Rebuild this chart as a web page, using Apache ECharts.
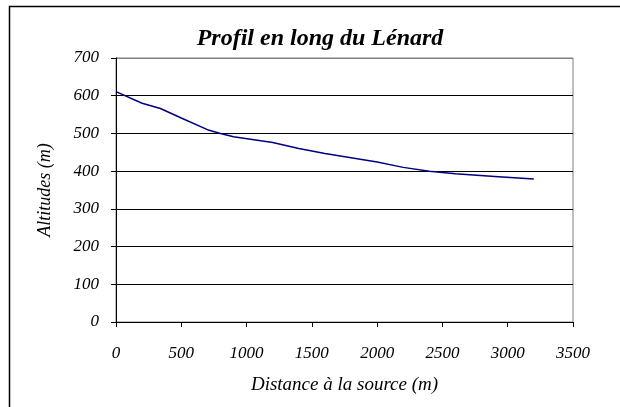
<!DOCTYPE html>
<html>
<head>
<meta charset="utf-8">
<title>Profil en long du Lénard</title>
<script src="https://cdn.jsdelivr.net/npm/echarts@6/dist/echarts.min.js"></script>
<style>
  html, body { margin: 0; padding: 0; background: #fff; }
  #chart { width: 620px; height: 407px; }
</style>
</head>
<body>
<div id="chart"></div>
<script>
// données
const distances = [0, 200, 340, 500, 700, 800, 900, 1200, 1400, 1600, 2000, 2200, 2400, 2600, 2900, 3200]
const altitudes = [611, 580, 566, 541, 510, 500, 491, 476, 460, 447, 424, 410, 400, 393, 386, 379]
const xTicks = [0, 500, 1000, 1500, 2000, 2500, 3000, 3500]
const yTicks = [0, 100, 200, 300, 400, 500, 600, 700]

const serif = '"Liberation Serif", "DejaVu Serif", serif'

let myChart = echarts.init(document.getElementById('chart'))
let option = {
  animation: false,
  title: {
    text: 'Profil en long du Lénard',
    left: 315,
    textAlign: 'center',
    top: 22,
    textStyle: {
      fontFamily: serif,
      fontStyle: 'italic',
      fontWeight: 'bold',
      fontSize: 24,
      color: '#000'
    }
  },
  // cadre du graphique (coupé à droite et en bas)
  graphic: [
    {
      type: 'rect',
      shape: { x: 9.5, y: 6.5, width: 700, height: 500 },
      style: { fill: 'none', stroke: '#000', lineWidth: 1.5 },
      silent: true
    }
  ],
  grid: {
    left: 116,
    right: 47,
    top: 58,
    bottom: 85,
    show: true,
    borderColor: '#808080',
    borderWidth: 1
  },
  xAxis: {
    type: 'value',
    min: xTicks[0],
    max: xTicks[xTicks.length - 1],
    interval: xTicks[1] - xTicks[0],
    name: 'Distance à la source (m)',
    nameLocation: 'middle',
    nameGap: 53,
    nameTextStyle: { fontFamily: serif, fontStyle: 'italic', fontSize: 19, color: '#000' },
    axisLine: { show: true, lineStyle: { color: '#000', width: 1 } },
    axisTick: { show: true, inside: false, length: 5, lineStyle: { color: '#000' } },
    axisLabel: {
      fontFamily: serif, fontStyle: 'italic', fontSize: 17, color: '#000', margin: 23,
      formatter: v => String(v) // pas de séparateur de milliers
    },
    splitLine: { show: false }
  },
  yAxis: {
    type: 'value',
    min: yTicks[0],
    max: yTicks[yTicks.length - 1],
    interval: yTicks[1] - yTicks[0],
    name: 'Altitudes (m)',
    nameLocation: 'middle',
    nameGap: 62,
    nameTextStyle: { fontFamily: serif, fontStyle: 'italic', fontSize: 18, color: '#000' },
    axisLine: { show: true, lineStyle: { color: '#000', width: 1 } },
    axisTick: { show: true, inside: false, length: 5, lineStyle: { color: '#000' } },
    axisLabel: {
      fontFamily: serif, fontStyle: 'italic', fontSize: 17, color: '#000', margin: 17,
      formatter: v => String(v)
    },
    splitLine: {
      show: true,
      lineStyle: {
        // la ligne du haut (700) est grise comme le cadre
        color: ['#000', '#000', '#000', '#000', '#000', '#000', '#000', '#808080'],
        width: 1
      }
    }
  },
  series: [
    {
      name: 'Profil',
      type: 'line',
      data: distances.map((d, i) => [d, altitudes[i]]),
      showSymbol: false,
      symbol: 'none',
      lineStyle: { color: '#000080', width: 1.5 }
    }
  ]
}
myChart.setOption(option, true)
</script>
</body>
</html>
